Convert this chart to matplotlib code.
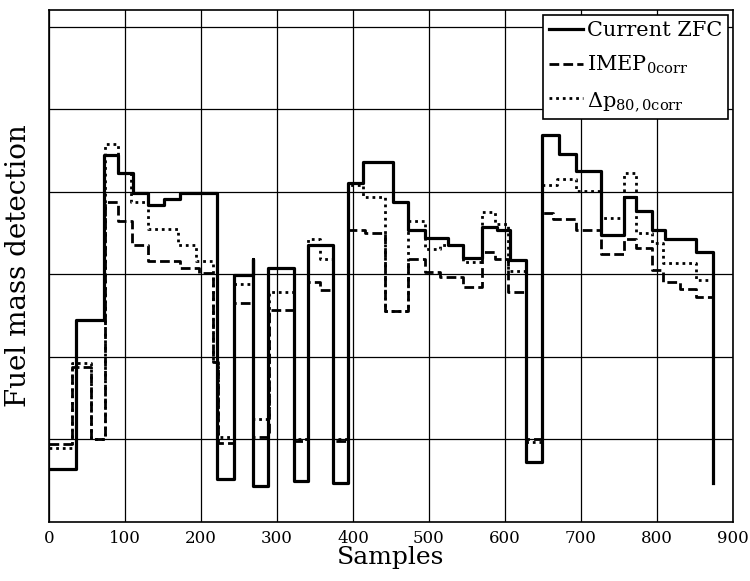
import numpy as np
import matplotlib
matplotlib.use('Agg')
import matplotlib.pyplot as plt

plt.rcParams['font.family'] = ['DejaVu Serif']
plt.rcParams['mathtext.fontset'] = 'dejavuserif'

# step breakpoints (samples) and levels (arbitrary units, no y scale shown)
zfc_x = [0, 35, 72, 91, 111, 130, 151, 172, 221, 243, 268, 269, 288, 322, 341, 374,
         393, 413, 453, 473, 495, 525, 545, 570, 589, 607, 628, 649, 671, 694, 727,
         757, 773, 793, 811, 852, 874]
zfc_y = [0.64, 2.45, 4.44, 4.23, 3.99, 3.84, 3.91, 3.98, 0.52, 2.99, 3.19, 0.44, 3.08,
         0.50, 3.35, 0.47, 4.10, 4.36, 3.87, 3.54, 3.44, 3.35, 3.20, 3.57, 3.53, 3.17,
         0.73, 4.69, 4.46, 4.25, 3.47, 3.93, 3.77, 3.54, 3.43, 3.27, 0.47]

imep_x = [0, 30, 55, 74, 91, 109, 130, 172, 198, 216, 222, 243, 268, 289, 322, 341,
          357, 374, 393, 416, 442, 472, 495, 514, 545, 570, 587, 604, 628, 649, 663,
          694, 727, 757, 773, 793, 808, 830, 852, 874]
imep_y = [0.95, 1.88, 1.00, 3.88, 3.64, 3.35, 3.16, 3.08, 3.02, 1.94, 0.96, 2.65, 1.03,
          2.57, 0.98, 2.91, 2.81, 0.98, 3.54, 3.50, 2.55, 3.19, 3.03, 2.97, 2.84, 3.27,
          3.18, 2.78, 1.00, 3.74, 3.67, 3.54, 3.25, 3.43, 3.32, 3.05, 2.91, 2.82, 2.73,
          0.50]

dp_x = [0, 30, 55, 74, 91, 108, 130, 170, 194, 216, 222, 243, 268, 289, 322, 341, 357,
        374, 393, 413, 442, 472, 495, 514, 545, 570, 587, 604, 628, 649, 668, 694, 727,
        757, 773, 793, 808, 852, 874]
dp_y = [0.90, 1.92, 1.00, 4.58, 4.23, 3.88, 3.55, 3.36, 3.16, 1.94, 1.03, 2.88, 1.25,
        2.78, 1.00, 3.43, 3.18, 1.00, 4.08, 3.94, 2.55, 3.64, 3.30, 3.35, 3.15, 3.76,
        3.61, 3.04, 0.97, 4.08, 4.15, 4.01, 3.68, 4.23, 3.50, 3.38, 3.14, 2.93, 0.50]

xticks = [0, 100, 200, 300, 400, 500, 600, 700, 800, 900]
yticks = [1, 2, 3, 4, 5, 6]

fig = plt.figure(figsize=(7.5, 5.81), dpi=100)
ax = fig.add_axes([0.0653, 0.1015, 0.912, 0.8813])

ax.step(zfc_x, zfc_y, where='post', color='black', lw=2.3, ls='-', label='Current ZFC')
ax.step(imep_x, imep_y, where='post', color='black', lw=2.0, ls=(0, (3.5, 1.5)),
        label=r'$\mathregular{IMEP_{0corr}}$')
ax.step(dp_x, dp_y, where='post', color='black', lw=2.0, ls=(0, (1, 1.4)),
        label=r'$\mathregular{Δp_{80,0corr}}$')

ax.set_xlim(0, 900)
ax.set_ylim(0, 6.2)
ax.set_xticks(xticks)
ax.set_yticks(yticks)
ax.set_yticklabels([])
ax.tick_params(axis='both', length=0, labelsize=12, pad=6)
ax.grid(True, color='black', lw=0.9, ls='-')
for s in ax.spines.values():
    s.set_linewidth(1.2)

ax.set_xlabel('Samples', fontsize=18, labelpad=-1)
ax.set_ylabel('Fuel mass detection', fontsize=20, labelpad=6)

leg = ax.legend(loc='upper right', bbox_to_anchor=(0.993, 0.99), fontsize=15,
                fancybox=False, framealpha=1, edgecolor='black', borderaxespad=0.0,
                handlelength=1.6, handletextpad=0.2, borderpad=0.3, labelspacing=0.65)
leg.get_frame().set_linewidth(1.2)

fig.savefig('out.png', dpi=100)
